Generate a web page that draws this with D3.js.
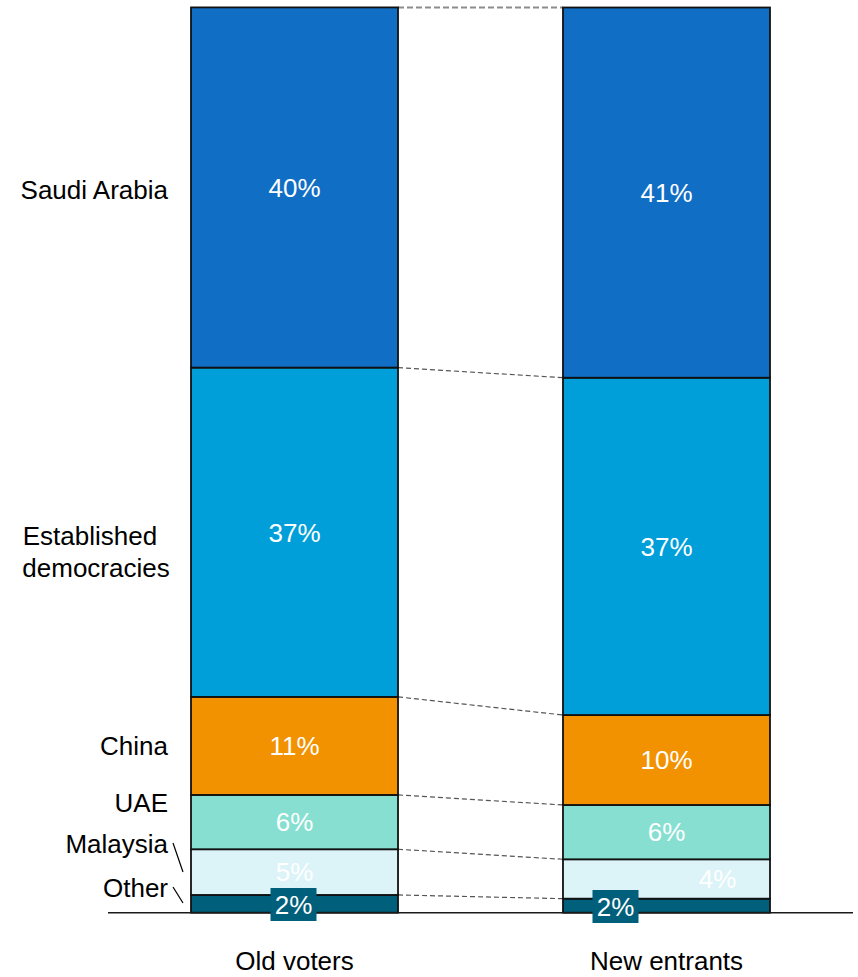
<!DOCTYPE html>
<html>
<head>
<meta charset="utf-8">
<script src="https://cdn.jsdelivr.net/npm/d3@7"></script>
<style>
  html, body { margin: 0; padding: 0; background: #fff; }
  svg { display: block; font-family: "Liberation Sans", Arial, sans-serif; }
</style>
</head>
<body>
<svg id="chart" width="858" height="977"></svg>
<script>
// ---- data (bottom to top) ----
const categories = ["Old voters", "New entrants"];
const segments = ["Other", "Malaysia", "UAE", "China", "Established democracies", "Saudi Arabia"];
const oldVoters = [1.96, 5.05, 6.0, 10.83, 36.38, 39.79];
const newEntrants = [1.55, 4.35, 6.0, 9.94, 37.26, 40.9];
const oldLabels = ["2%", "5%", "6%", "11%", "37%", "40%"];
const newLabels = ["2%", "4%", "6%", "10%", "37%", "41%"];
const colors = ["#005f7a", "#dcf3f8", "#86dfd0", "#f39200", "#009fd9", "#106ec4"];

const seriesValues = [oldVoters, newEntrants];
const seriesLabels = [oldLabels, newLabels];

const svg = d3.select("#chart");
const FS = 26;

const x = d3.scaleBand().domain(categories).range([191, 770]).paddingInner(0.4435).paddingOuter(0);
const y = d3.scaleLinear().domain([0, 100]).range([912.7, 7.5]);
const color = d3.scaleOrdinal().domain(segments).range(colors);

// stacked data
const stacks = categories.map((c, ci) => {
  let acc = 0;
  return segments.map((s, si) => {
    const v = seriesValues[ci][si];
    const d = { cat: c, seg: s, si, y0: acc, y1: acc + v, label: seriesLabels[ci][si] };
    acc += v;
    return d;
  });
});

// connectors (dashed) between the bars at each segment top
const left = stacks[0], right = stacks[1];
const conn = svg.append("g");
segments.forEach((s, si) => {
  const top = si === segments.length - 1;
  conn.append("line")
    .attr("x1", x(categories[0]) + x.bandwidth())
    .attr("x2", x(categories[1]))
    .attr("y1", y(left[si].y1))
    .attr("y2", y(right[si].y1))
    .attr("stroke", top ? "#8c8c8c" : "#555")
    .attr("stroke-width", top ? 2 : 1.2)
    .attr("stroke-dasharray", top ? "6,3" : "5,3");
});

// bars
const bars = svg.append("g");
stacks.forEach(st => {
  bars.selectAll(null).data(st).enter().append("rect")
    .attr("x", d => x(d.cat))
    .attr("width", x.bandwidth())
    .attr("y", d => y(d.y1))
    .attr("height", d => y(d.y0) - y(d.y1))
    .attr("fill", d => color(d.seg))
    .attr("stroke", "#111")
    .attr("stroke-width", 1.8);
});

// axis baseline
svg.append("line")
  .attr("x1", 108).attr("x2", 853)
  .attr("y1", y(0)).attr("y2", y(0))
  .attr("stroke", "#1a1a1a").attr("stroke-width", 1.6);

// value labels
const vl = svg.append("g").attr("font-size", FS).attr("fill", "#fff").attr("text-anchor", "middle");
stacks.forEach((st, ci) => {
  st.forEach(d => {
    let cx = x(d.cat) + x.bandwidth() / 2;
    let cy = (y(d.y0) + y(d.y1)) / 2;
    if (d.seg === "Other") {
      cx += ci === 0 ? -1 : -51;
      cy = ci === 0 ? 904.5 : 906.5;
      vl.append("rect")
        .attr("x", cx - 23).attr("y", cy - 16.5)
        .attr("width", 46).attr("height", 33)
        .attr("fill", color(d.seg));
    }
    if (d.seg === "Malaysia" && ci === 1) { cx += 51; }
    vl.append("text")
      .attr("x", cx)
      .attr("y", cy + FS * 0.358)
      .text(d.label);
  });
});

// category labels
svg.append("g").selectAll("text").data(categories).enter().append("text")
  .attr("x", d => x(d) + x.bandwidth() / 2)
  .attr("y", 970)
  .attr("text-anchor", "middle")
  .attr("font-size", FS)
  .attr("fill", "#000")
  .text(d => d);

// segment names on the left
const nameG = svg.append("g").attr("font-size", FS).attr("fill", "#000");
const nameBaseline = { "Saudi Arabia": 199, "China": 755, "UAE": 812, "Malaysia": 853, "Other": 897 };
segments.forEach(s => {
  if (s === "Established democracies") {
    const t = nameG.append("text").attr("text-anchor", "middle");
    t.append("tspan").attr("x", 90).attr("y", 545).text("Established");
    t.append("tspan").attr("x", 96).attr("y", 577).text("democracies");
  } else {
    nameG.append("text")
      .attr("x", 168)
      .attr("y", nameBaseline[s])
      .attr("text-anchor", "end")
      .text(s);
  }
});

// leader lines for Malaysia and Other
const leaders = [[173, 843, 183, 872], [173, 887, 183, 903]];
svg.append("g").selectAll("line").data(leaders).enter().append("line")
  .attr("x1", d => d[0]).attr("y1", d => d[1])
  .attr("x2", d => d[2]).attr("y2", d => d[3])
  .attr("stroke", "#000").attr("stroke-width", 1.2);
</script>
</body>
</html>
